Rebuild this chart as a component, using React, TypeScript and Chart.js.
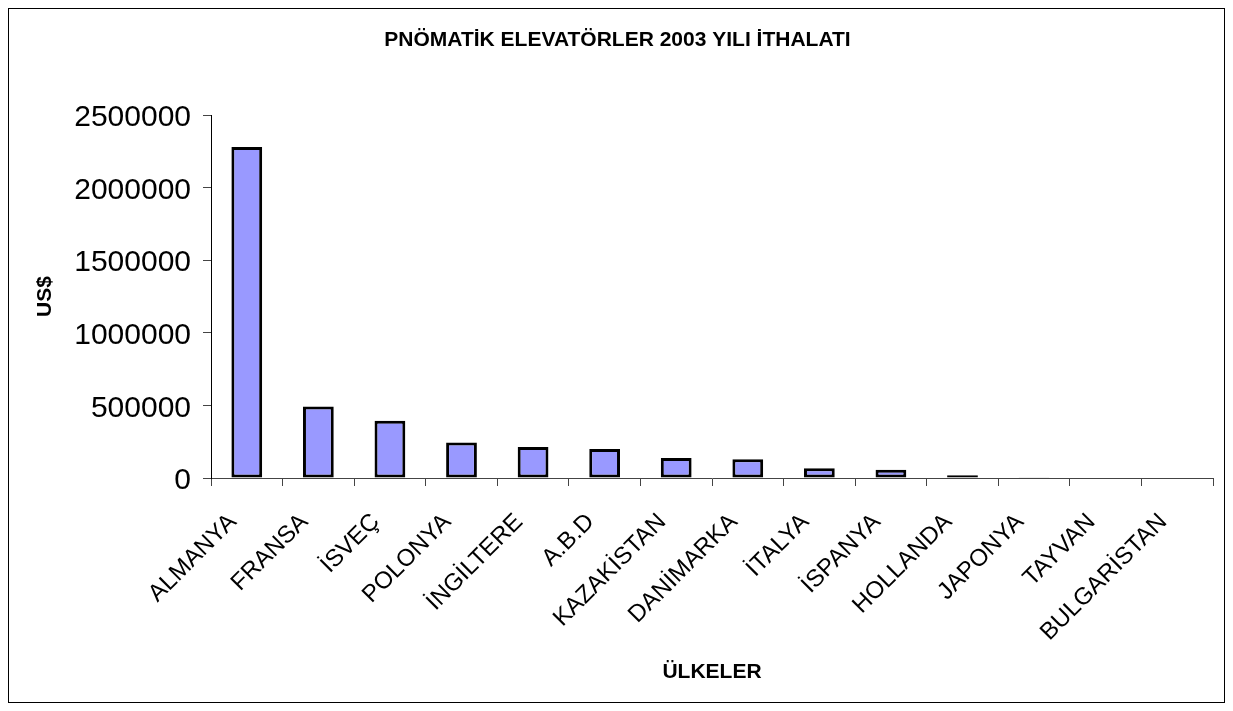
import React, { useEffect, useRef } from "react";
import { Chart, registerables } from "chart.js";

Chart.register(...registerables);

const TITLE = "PNÖMATİK ELEVATÖRLER 2003 YILI İTHALATI";
const Y_TITLE = "US$";
const X_TITLE = "ÜLKELER";
const categories = [
  "ALMANYA",
  "FRANSA",
  "İSVEÇ",
  "POLONYA",
  "İNGİLTERE",
  "A.B.D",
  "KAZAKİSTAN",
  "DANİMARKA",
  "İTALYA",
  "İSPANYA",
  "HOLLANDA",
  "JAPONYA",
  "TAYVAN",
  "BULGARİSTAN",
];
const values = [
  2280000, 493000, 394000, 244000, 214000, 199000, 137000, 129000, 68000, 56000,
  19000, 6000, 0, 0,
];
const yMin = 0;
const yMax = 2500000;
const yStep = 500000;

const FONT = "'Liberation Sans', Arial, sans-serif";

export default function App() {
  const ref = useRef<HTMLCanvasElement | null>(null);

  useEffect(() => {
    if (!ref.current) return;
    const chart = new Chart(ref.current, {
      type: "bar",
      data: {
        labels: categories,
        datasets: [
          {
            data: values,
            backgroundColor: "#9999FF",
            borderColor: "#000000",
            borderWidth: 3,
            borderSkipped: false,
            barPercentage: 0.43,
            categoryPercentage: 1,
          },
        ],
      },
      options: {
        responsive: false,
        animation: false,
        layout: { padding: { left: 13, right: 11, top: 0, bottom: 0 } },
        plugins: {
          legend: { display: false },
          tooltip: { enabled: false },
          title: {
            display: true,
            text: TITLE,
            color: "#000",
            font: { family: FONT, size: 21, weight: "bold" },
            padding: { top: 18.4, bottom: 62.4 },
          },
        },
        scales: {
          x: {
            grid: {
              drawOnChartArea: false,
              drawTicks: true,
              tickLength: 8,
              color: "#444",
              offset: true,
            },
            border: { display: true, color: "#444", width: 1 },
            ticks: {
              color: "#000",
              font: { family: FONT, size: 24 },
              minRotation: 45,
              maxRotation: 45,
              autoSkip: false,
              padding: 22,
              labelOffset: -14,
            },
            title: {
              display: true,
              text: X_TITLE,
              color: "#000",
              font: { family: FONT, size: 21, weight: "bold" },
              padding: { top: 0, bottom: 17.4 },
            },
            afterFit: (scale: any) => {
              scale.height = 224;
            },
          },
          y: {
            min: yMin,
            max: yMax,
            grid: {
              drawOnChartArea: false,
              drawTicks: true,
              tickLength: 8,
              color: "#444",
            },
            border: { display: true, color: "#000", width: 1 },
            ticks: {
              stepSize: yStep,
              color: "#000",
              font: { family: FONT, size: 30 },
              padding: 12,
              labelOffset: 3,
              callback: (v: any) => String(v),
            },
            title: {
              display: true,
              text: Y_TITLE,
              color: "#000",
              font: { family: FONT, size: 21, weight: "bold" },
              padding: { top: 11, bottom: 0 },
            },
            afterFit: (scale: any) => {
              scale.width = 189;
            },
          },
        },
      },
    });
    return () => chart.destroy();
  }, []);

  return (
    <div
      style={{
        width: 1217,
        height: 695,
        border: "1px solid #000",
        boxSizing: "border-box",
        background: "#fff",
      }}
    >
      <canvas ref={ref} width={1215} height={693} style={{ display: "block" }} />
    </div>
  );
}
